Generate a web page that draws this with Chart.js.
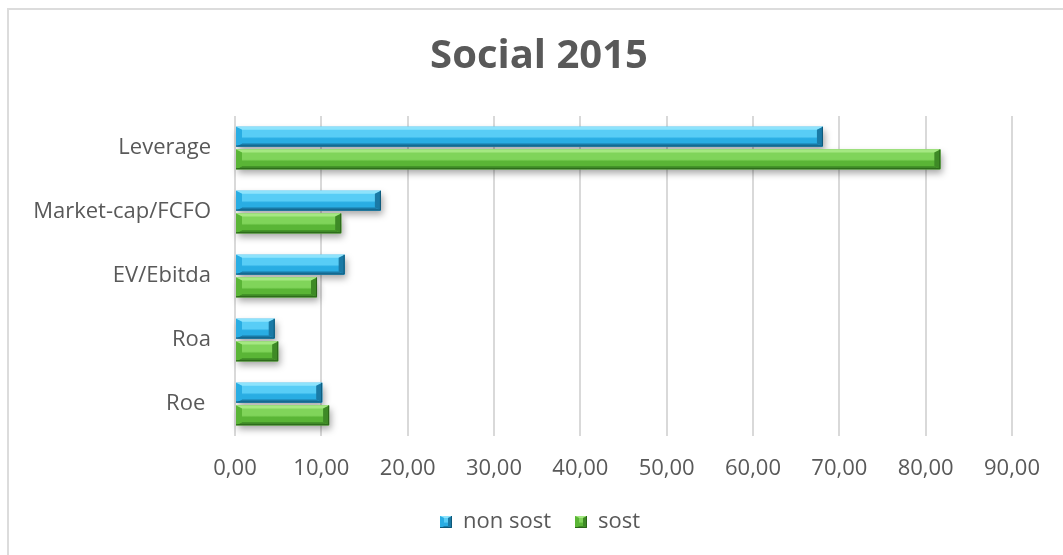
<!DOCTYPE html>
<html>
<head>
<meta charset="utf-8">
<title>Social 2015</title>
<script src="https://cdn.jsdelivr.net/npm/chart.js@4.4.1/dist/chart.umd.min.js"></script>
<style>
  html, body { margin: 0; padding: 0; background: #fff; overflow: hidden; }
  #frame {
    position: absolute; left: 7px; top: 8px; width: 1120px; height: 620px;
    border: 2px solid #dcdcdc; box-sizing: border-box;
  }
  #chart { position: absolute; left: 0; top: 0; }
</style>
</head>
<body>
<div id="frame"></div>
<canvas id="chart" width="1063" height="555"></canvas>
<script>
// categories, top to bottom
const categories = ['Leverage', 'Market-cap/FCFO', 'EV/Ebitda', 'Roa', 'Roe '];
const nonSost = [68.1, 16.9, 12.7, 4.6, 10.1];
const sost = [81.7, 12.3, 9.5, 5.0, 10.9];
const xTicks = [0, 10, 20, 30, 40, 50, 60, 70, 80, 90];

const textColor = '#595959';
const fontFamily = '"Open Sans", "Liberation Sans", sans-serif';

// bevel shades per series
const tones = [
    { main: '#29ade3', light: '#8ee3fc', top: '#58cdf6', dark: '#1a7aa6', edge: '#0f5878' },
    { main: '#5ab536', light: '#a5e882', top: '#80d45a', dark: '#3e8a26', edge: '#2a6419' }
];

function bevelRect(ctx, l, t, r, b, tone) {
    const h = b - t;
    const e = Math.min(6, h / 3, (r - l) / 2);

    const g = ctx.createLinearGradient(0, t, 0, b);
    g.addColorStop(0, tone.top);
    g.addColorStop(0.5, tone.top);
    g.addColorStop(0.6, tone.main);
    g.addColorStop(1, tone.main);
    ctx.fillStyle = g;
    ctx.fillRect(l, t, r - l, h);

    // top chamfer
    ctx.fillStyle = tone.light;
    ctx.beginPath();
    ctx.moveTo(l, t); ctx.lineTo(r, t); ctx.lineTo(r - e, t + e / 2); ctx.lineTo(l + e, t + e / 2);
    ctx.closePath(); ctx.fill();
    // bottom chamfer
    ctx.fillStyle = tone.dark;
    ctx.beginPath();
    ctx.moveTo(l, b); ctx.lineTo(r, b); ctx.lineTo(r - e, b - e / 2); ctx.lineTo(l + e, b - e / 2);
    ctx.closePath(); ctx.fill();
    // left chamfer
    ctx.fillStyle = tone.main;
    ctx.beginPath();
    ctx.moveTo(l, t); ctx.lineTo(l + e, t + e / 2); ctx.lineTo(l + e, b - e / 2); ctx.lineTo(l, b);
    ctx.closePath(); ctx.fill();
    // right chamfer
    ctx.fillStyle = tone.dark;
    ctx.beginPath();
    ctx.moveTo(r, t); ctx.lineTo(r - e, t + e / 2); ctx.lineTo(r - e, b - e / 2); ctx.lineTo(r, b);
    ctx.closePath(); ctx.fill();

    ctx.strokeStyle = tone.edge;
    ctx.lineWidth = 1;
    ctx.beginPath();
    ctx.moveTo(l, b - 0.5); ctx.lineTo(r - 0.5, b - 0.5); ctx.lineTo(r - 0.5, t);
    ctx.stroke();
}

function legendBox(tone) {
    const c = document.createElement('canvas');
    c.width = 12; c.height = 12;
    bevelRect(c.getContext('2d'), 0, 0, 12, 12, tone);
    return c;
}

function eachBar(chart, fn) {
    chart.data.datasets.forEach((ds, i) => {
        chart.getDatasetMeta(i).data.forEach(bar => {
            const p = bar.getProps(['x', 'y', 'base', 'height'], true);
            const l = Math.min(p.base, p.x), r = Math.max(p.base, p.x);
            fn(l, p.y - p.height / 2, r, p.y + p.height / 2, tones[i]);
        });
    });
}

const bevelBars = {
    id: 'bevelBars',
    afterLayout(chart) {
        // centre title and legend on the whole frame, not on the padded box
        chart.titleBlock.left += 33;
        chart.titleBlock.right += 33;
        chart.legend.left += 34;
        chart.legend.right += 34;
    },
    beforeDatasetsDraw(chart) {
        const ctx = chart.ctx;
        ctx.save();
        ctx.shadowColor = 'rgba(0,0,0,0.35)';
        ctx.shadowBlur = 7;
        ctx.shadowOffsetX = 2;
        ctx.shadowOffsetY = 4;
        ctx.fillStyle = '#ffffff';
        eachBar(chart, (l, t, r, b) => ctx.fillRect(l, t, r - l, b - t));
        ctx.restore();
    },
    afterDatasetsDraw(chart) {
        const ctx = chart.ctx;
        ctx.save();
        eachBar(chart, (l, t, r, b, tone) => bevelRect(ctx, l, t, r, b, tone));
        ctx.restore();
    }
};

Chart.defaults.font.family = fontFamily;
Chart.defaults.color = textColor;

new Chart(document.getElementById('chart'), {
    type: 'bar',
    data: {
        labels: categories,
        datasets: [
            { label: 'non sost', data: nonSost, backgroundColor: tones[0].main, pointStyle: legendBox(tones[0]) },
            { label: 'sost', data: sost, backgroundColor: tones[1].main, pointStyle: legendBox(tones[1]) }
        ]
    },
    options: {
        indexAxis: 'y',
        responsive: false,
        animation: false,
        categoryPercentage: 0.71,
        barPercentage: 0.87,
        layout: { padding: { top: 8, right: 51, bottom: 12, left: 0 } },
        scales: {
            x: {
                min: 0,
                max: 90,
                afterBuildTicks: scale => { scale.ticks = xTicks.map(v => ({ value: v })); },
                afterFit: scale => { scale.height = 51; },
                grid: { color: '#d9d9d9', lineWidth: 2, drawTicks: false },
                border: { display: false },
                ticks: {
                    padding: 20,
                    font: { size: 22 },
                    color: textColor,
                    callback: v => v.toFixed(2).replace('.', ',')
                }
            },
            y: {
                afterFit: scale => { scale.width = 235; },
                grid: { display: false },
                border: { display: false },
                ticks: { padding: 16, font: { size: 22 }, color: textColor }
            }
        },
        plugins: {
            title: {
                display: true,
                text: 'Social 2015',
                color: textColor,
                font: { size: 40, weight: 'bold' },
                padding: { top: 25, bottom: 35 }
            },
            legend: {
                position: 'bottom',
                labels: {
                    usePointStyle: true,
                    pointStyleWidth: 12,
                    font: { size: 22 },
                    color: textColor,
                    padding: 24
                }
            },
            tooltip: { enabled: false }
        }
    },
    plugins: [bevelBars]
});
</script>
</body>
</html>
